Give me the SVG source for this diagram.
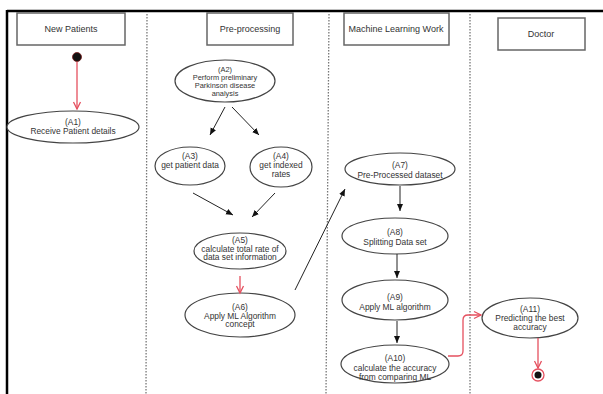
<svg xmlns="http://www.w3.org/2000/svg" width="603" height="394" viewBox="0 0 603 394">
<defs>
<marker id="ah" markerWidth="8" markerHeight="8" refX="7" refY="4" orient="auto" markerUnits="userSpaceOnUse">
<path d="M0,1 L7,4 L0,7 Z" fill="#111"/>
</marker>
<marker id="rh" markerWidth="10" markerHeight="10" refX="8" refY="5" orient="auto" markerUnits="userSpaceOnUse">
<path d="M1,1.5 L8,5 L1,8.5" fill="none" stroke="#e5505f" stroke-width="1.3"/>
</marker>
</defs>
<style>
.hdr{fill:#fff;stroke:#666;stroke-width:1.5}
.ht{font-family:"Liberation Sans",Arial,sans-serif;font-size:9px;fill:#333;text-anchor:middle}
.nd{fill:#fff;stroke:#444;stroke-width:1.2}
.t{font-family:"Liberation Sans",Arial,sans-serif;font-size:8.4px;fill:#333;text-anchor:middle}
.s{font-size:7.4px}
.lane{stroke:#777;stroke-width:1.3;stroke-dasharray:1.5 1.5;fill:none}
.bk{stroke:#222;stroke-width:1;fill:none;marker-end:url(#ah)}
.rd{stroke:#e5505f;stroke-width:1.3;fill:none;marker-end:url(#rh)}
</style>
<rect width="603" height="394" fill="#fff"/>
<g id="frame">
<line x1="7" y1="11" x2="603" y2="11" stroke="#000" stroke-width="2.5"/>
<line x1="7" y1="10" x2="7" y2="394" stroke="#000" stroke-width="2.5"/>
<line class="lane" x1="147" y1="14" x2="146" y2="394"/>
<line class="lane" x1="329" y1="14" x2="326" y2="394"/>
<line class="lane" x1="470" y1="14" x2="470" y2="394"/>
</g>
<g id="lane-new-patients"><rect class="hdr" x="17" y="13" width="108" height="32"/><text class="ht" x="71" y="32">New Patients</text></g>
<g id="lane-preprocessing"><rect class="hdr" x="207" y="13" width="86" height="32"/><text class="ht" x="250" y="32">Pre-processing</text></g>
<g id="lane-ml"><rect class="hdr" x="344" y="13" width="105" height="32"/><text class="ht" x="396" y="32">Machine Learning Work</text></g>
<g id="lane-doctor"><rect class="hdr" x="498" y="18" width="87" height="32"/><text class="ht" x="541" y="37">Doctor</text></g>
<g id="start"><circle cx="77" cy="57" r="4.5" fill="#111" stroke="#7a1a1a" stroke-width="0.8"/></g>
<g id="A1"><ellipse class="nd" cx="73" cy="127" rx="66" ry="16"/><text class="t" x="73" y="125">(A1)</text><text class="t" x="73" y="134">Receive Patient details</text></g>
<g id="A2"><ellipse class="nd" cx="225" cy="81" rx="50" ry="21"/><text class="t s" x="225" y="72">(A2)</text><text class="t s" x="225" y="80">Perform preliminary</text><text class="t s" x="225" y="88">Parkinson disease</text><text class="t s" x="225" y="96">analysis</text></g>
<g id="A3"><ellipse class="nd" cx="190" cy="166" rx="35" ry="19"/><text class="t" x="190" y="159">(A3)</text><text class="t" x="190" y="168">get patient data</text></g>
<g id="A4"><ellipse class="nd" cx="281" cy="167" rx="31" ry="20"/><text class="t" x="281" y="159">(A4)</text><text class="t" x="281" y="168">get indexed</text><text class="t" x="281" y="177">rates</text></g>
<g id="A5"><ellipse class="nd" cx="240" cy="251" rx="46" ry="18"/><text class="t" x="240" y="243">(A5)</text><text class="t" x="240" y="251.5">calculate total rate of</text><text class="t" x="240" y="260">data set information</text></g>
<g id="A6"><ellipse class="nd" cx="240" cy="315" rx="55" ry="22"/><text class="t" x="240" y="310">(A6)</text><text class="t" x="240" y="318.5">Apply ML Algorithm</text><text class="t" x="240" y="327">concept</text></g>
<g id="A7"><ellipse class="nd" cx="400" cy="169" rx="55" ry="16"/><text class="t" x="400" y="168">(A7)</text><text class="t" x="400" y="177.5">Pre-Processed dataset</text></g>
<g id="A8"><ellipse class="nd" cx="395" cy="236" rx="53" ry="18"/><text class="t" x="395" y="235">(A8)</text><text class="t" x="395" y="244.5">Splitting Data set</text></g>
<g id="A9"><ellipse class="nd" cx="395" cy="300" rx="53" ry="20"/><text class="t" x="395" y="300">(A9)</text><text class="t" x="395" y="310">Apply ML algorithm</text></g>
<g id="A10"><ellipse class="nd" cx="395" cy="364" rx="54" ry="19"/><text class="t" x="395" y="361">(A10)</text><text class="t" x="395" y="370.5">calculate the accuracy</text><text class="t" x="395" y="380">from comparing ML</text></g>
<g id="A11"><ellipse class="nd" cx="530" cy="318" rx="48" ry="20"/><text class="t" x="530" y="312">(A11)</text><text class="t" x="530" y="321">Predicting the best</text><text class="t" x="530" y="330">accuracy</text></g>
<g id="end"><circle cx="538" cy="375" r="6" fill="#fff" stroke="#e5505f" stroke-width="1.3"/><circle cx="538" cy="375" r="3.5" fill="#111"/></g>
<g id="connectors">
<line class="rd" x1="77" y1="62" x2="77" y2="109"/>
<line class="bk" x1="225" y1="107" x2="210" y2="135"/>
<line class="bk" x1="232" y1="107" x2="259" y2="135"/>
<line class="bk" x1="193" y1="193" x2="233" y2="215"/>
<line class="bk" x1="275" y1="193" x2="252" y2="217"/>
<line class="rd" x1="240" y1="276" x2="240" y2="293"/>
<line class="bk" x1="295" y1="290" x2="345" y2="189"/>
<line class="bk" x1="400" y1="186" x2="400" y2="211"/>
<line class="bk" x1="397" y1="254" x2="397" y2="278"/>
<line class="bk" x1="397" y1="321" x2="397" y2="343"/>
<path class="rd" d="M448,356 H458 Q463,356 463,351 V320 Q463,315 468,315 H481"/>
<line class="rd" x1="538" y1="338" x2="538" y2="368"/>
</g>
</svg>
